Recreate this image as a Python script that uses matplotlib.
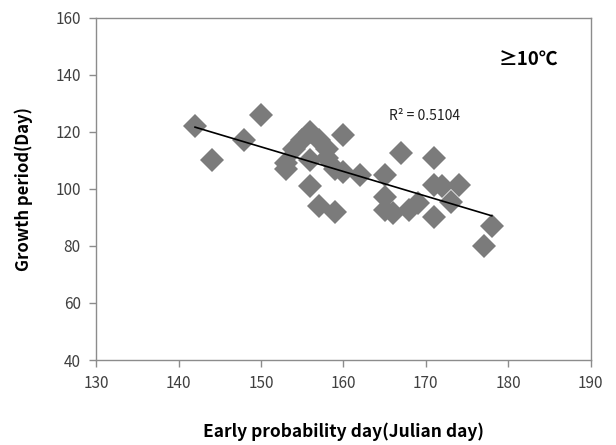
import numpy as np
import matplotlib.pyplot as plt

plt.rcParams['font.family'] = ['Noto Sans CJK KR', 'DejaVu Sans']

# Early probability day (Julian) vs growth period, >=10C threshold
early_day = [142, 144, 148, 150, 153, 153, 154, 155, 156, 157, 158, 156,
             158, 159, 160, 160, 156, 157, 159, 162, 165, 165, 165, 166,
             168, 169, 167, 171, 171, 172, 174, 173, 171, 178, 177]
growth_days = [122, 110, 117, 126, 109, 107, 114, 117, 120, 117, 114, 110,
               111, 107, 106, 119, 101, 94, 92, 105, 105, 97, 92.5, 91.5,
               92.5, 95, 112.5, 111, 101.5, 101, 101.5, 95.5, 90, 87, 80]
r2_text = "R² = 0.5104"

x = np.array(early_day, dtype=float)
y = np.array(growth_days, dtype=float)
slope, intercept = np.polyfit(x, y, 1)
xfit = np.array([x.min(), x.max()])

fig = plt.figure(figsize=(6.16, 4.45), dpi=100)
ax = fig.add_axes([0.156, 0.191, 0.803, 0.769])

ax.plot(x, y, linestyle='none', marker='D', markersize=12.5,
        color='#7b7b7b', markeredgewidth=0)
ax.plot(xfit, slope * xfit + intercept, color='black', linewidth=1.2)

ax.set_xlim(130, 190)
ax.set_ylim(40, 160)
ax.set_xticks(range(130, 191, 10))
ax.set_yticks(range(40, 161, 20))

for sp in ax.spines.values():
    sp.set_color('#8c8c8c')
    sp.set_linewidth(1.0)
ax.tick_params(direction='out', length=5, width=1.0, color='#8c8c8c',
               labelsize=11, labelcolor='#404040', pad=6)

ax.set_xlabel("Early probability day(Julian day)", fontsize=12.5,
              fontweight='bold', labelpad=22)
ax.set_ylabel("Growth period(Day)", fontsize=12, fontweight='bold',
              labelpad=16)

ax.text(182.5, 145, "≥10℃", fontsize=13.5, fontweight='bold', ha='center',
        va='center')
ax.text(165.5, 125.5, r2_text, fontsize=10, color='#202020', va='center')

fig.savefig("out.png", dpi=100)
